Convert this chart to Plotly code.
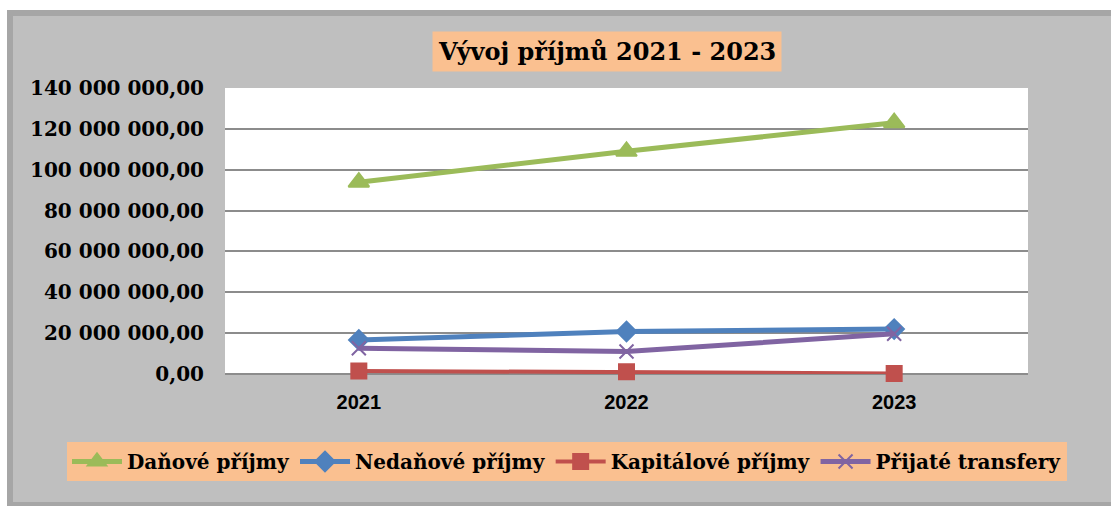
import plotly.graph_objects as go

years = ["2021", "2022", "2023"]
danove = [93.9e6, 109.0e6, 123.0e6]
nedanove = [16.7e6, 20.8e6, 22.0e6]
kapitalove = [1.5e6, 1.1e6, 0.3e6]
prijate = [12.6e6, 11.0e6, 19.7e6]

series_names = ["Daňové příjmy", "Nedaňové příjmy", "Kapitálové příjmy", "Přijaté transfery"]
series_vals = [danove, nedanove, kapitalove, prijate]
colors = ["#9bbb59", "#4f81bd", "#c0504d", "#8064a2"]
symbols = ["triangle-up", "diamond", "square", "x-thin"]
msizes = [18, 15, 15, 14]
lwidths = [5, 5, 4, 5]

W, H = 1111, 506
L, R, T, B = 225, 1028, 88, 374

def px(x):
    return (x - L) / (R - L)

def py(y):
    return (B - y) / (B - T)

fig = go.Figure()
for name, vals, c, s, ms, lw in zip(series_names, series_vals, colors, symbols, msizes, lwidths):
    fig.add_trace(go.Scatter(
        x=years, y=vals, name=name, mode="lines+markers",
        line=dict(color=c, width=lw),
        marker=dict(symbol=s, size=ms, color=c, line=dict(color=c, width=2)),
        cliponaxis=False,
    ))

shapes = [
    dict(type="rect", xref="paper", yref="paper", x0=px(-50), x1=px(7), y0=py(-50), y1=py(560),
         fillcolor="white", line=dict(width=0), layer="above"),
    dict(type="rect", xref="paper", yref="paper", x0=px(-50), x1=px(1200), y0=py(-50), y1=py(10),
         fillcolor="white", line=dict(width=0), layer="above"),
    dict(type="rect", xref="paper", yref="paper", x0=px(10), x1=px(1125), y0=py(13), y1=py(505),
         fillcolor="rgba(0,0,0,0)", line=dict(color="#a6a6a6", width=6), layer="above"),
]

serif = "DejaVu Serif, serif"
fig.update_layout(
    width=W, height=H,
    margin=dict(l=L, r=W - R, t=T, b=H - B, pad=0),
    paper_bgcolor="#bfbfbf",
    plot_bgcolor="white",
    separators=", ",
    showlegend=True,
    legend=dict(
        orientation="h", x=px(67), xanchor="left", y=py(442), yanchor="top",
        bgcolor="#fac090", font=dict(family=serif, size=20, color="black", weight="bold"),
        itemwidth=50, tracegroupgap=0,
    ),
    shapes=shapes,
    annotations=[dict(
        text="<b>Vývoj příjmů 2021 - 2023</b>", xref="paper", yref="paper",
        x=px(607), y=py(51), xanchor="center", yanchor="middle", showarrow=False,
        bgcolor="#fac090", borderpad=5,
        font=dict(family=serif, size=24, color="black"),
    )],
    xaxis=dict(
        type="category", range=[-0.5, 2.5], showgrid=False, zeroline=False, showline=False,
        ticks="outside", ticklen=10, tickcolor="rgba(0,0,0,0)",
        tickfont=dict(family="Liberation Sans, Arial, sans-serif", size=20, color="black", weight="bold"),
    ),
    yaxis=dict(
        range=[0, 140e6], dtick=20e6, tickformat=",.2f",
        showgrid=True, gridcolor="#8c8c8c", gridwidth=2,
        zeroline=True, zerolinecolor="#8c8c8c", zerolinewidth=2, showline=False,
        ticks="outside", ticklen=16, tickcolor="rgba(0,0,0,0)",
        tickfont=dict(family=serif, size=20, color="black", weight="bold"),
    ),
)

fig.write_html("out.html", config={"displayModeBar": False},
               post_script="document.body.style.margin='0px';document.body.style.overflow='hidden';")
